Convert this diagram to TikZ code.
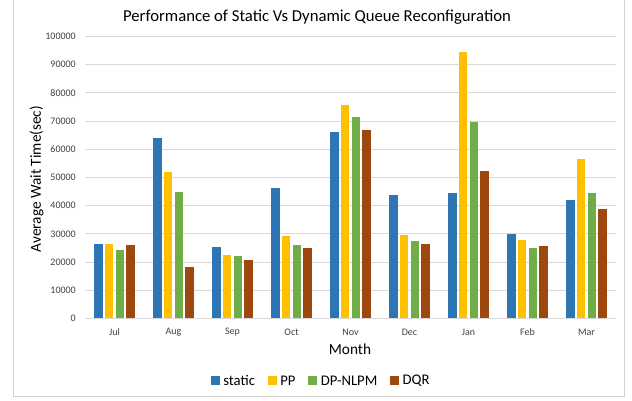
\documentclass[tikz,border=0pt]{standalone}
\usepackage{fontspec}
\setmainfont{Carlito}
\usetikzlibrary{positioning}

\definecolor{cstatic}{HTML}{2E75B6}
\definecolor{cpp}{HTML}{FFC000}
\definecolor{cdp}{HTML}{70AD47}
\definecolor{cdqr}{HTML}{9E480E}
\definecolor{gridgray}{HTML}{D9D9D9}
\definecolor{framegray}{HTML}{D0D0D0}
\definecolor{ticktext}{HTML}{404040}

\begin{document}
\begin{tikzpicture}[x=1pt,y=-1pt,
  grid/.style={draw=gridgray,line width=0.9pt},
  tick/.style={anchor=east,inner sep=0pt,text=ticktext,font=\fontsize{10}{12}\selectfont},
  month/.style={inner sep=0pt,text=ticktext,font=\fontsize{10}{12}\selectfont},
  axlabel/.style={inner sep=0pt,font=\fontsize{15.3}{18}\selectfont},
  legsq/.style={minimum size=9pt,inner sep=0pt},
  legtxt/.style={inner sep=0pt,font=\fontsize{14.7}{17}\selectfont}]
\useasboundingbox (0,0) rectangle (632,400);
% chart frame, top edge cut off
\draw[framegray,line width=0.9pt] (13,0) -- (13,396) -- (624,396) -- (624,0);

\node[axlabel,font=\fontsize{16.7}{20}\selectfont] (title) at (317,17) {Performance of Static Vs Dynamic Queue Reconfiguration};

% grid and ticks
\foreach \v in {0,...,10}
  {
  \draw[grid] (85,{318.3-28.17*\v}) -- (616,{318.3-28.17*\v});
  \node[tick] (t\v) at (76,{318.3-28.17*\v}) {\the\numexpr\v*10000\relax};
  }

% bars, in thousands
\foreach \m/\a/\b/\c/\d [count=\i from 0] in
  {Jul/26.4/26.4/24.3/26.1, Aug/64.0/52.0/44.9/18.1, Sep/25.2/22.5/22.2/20.6,
   Oct/46.3/29.3/25.9/24.9, Nov/66.0/75.7/71.3/67.0, Dec/43.9/29.4/27.6/26.4,
   Jan/44.6/94.4/69.6/52.3, Feb/29.9/27.9/24.9/25.8, Mar/41.9/56.4/44.6/38.7}
  {
  \pgfmathsetmacro\cx{114.5+59*\i}
  \fill[cstatic] (\cx-20.3,318.3) rectangle ++(8.6,{-2.817*\a});
  \fill[cpp]     (\cx-9.65,318.3) rectangle ++(8.6,{-2.817*\b});
  \fill[cdp]     (\cx+1.05,318.3) rectangle ++(8.6,{-2.817*\c});
  \fill[cdqr]    (\cx+11.7,318.3) rectangle ++(8.6,{-2.817*\d});
  \node[month] (m\i) at (\cx,332.3) {\m};
  }

\node[axlabel] (xlabel) at (350,349) {Month};
\node[axlabel,rotate=90] (ylabel) at (36.5,179) {Average Wait Time(sec)};

% legend
\node[legsq,fill=cstatic] (lsq1) at (215.5,380.5) {};
\node[legtxt,right=3pt of lsq1] (ltx1) {static};
\node[legsq,fill=cpp,right=12.5pt of ltx1] (lsq2) {};
\node[legtxt,right=3pt of lsq2] (ltx2) {PP};
\node[legsq,fill=cdp,right=12.5pt of ltx2] (lsq3) {};
\node[legtxt,right=3pt of lsq3] (ltx3) {DP-NLPM};
\node[legsq,fill=cdqr,right=12.5pt of ltx3] (lsq4) {};
\node[legtxt,right=3pt of lsq4] (ltx4) {DQR};
\end{tikzpicture}
\end{document}
